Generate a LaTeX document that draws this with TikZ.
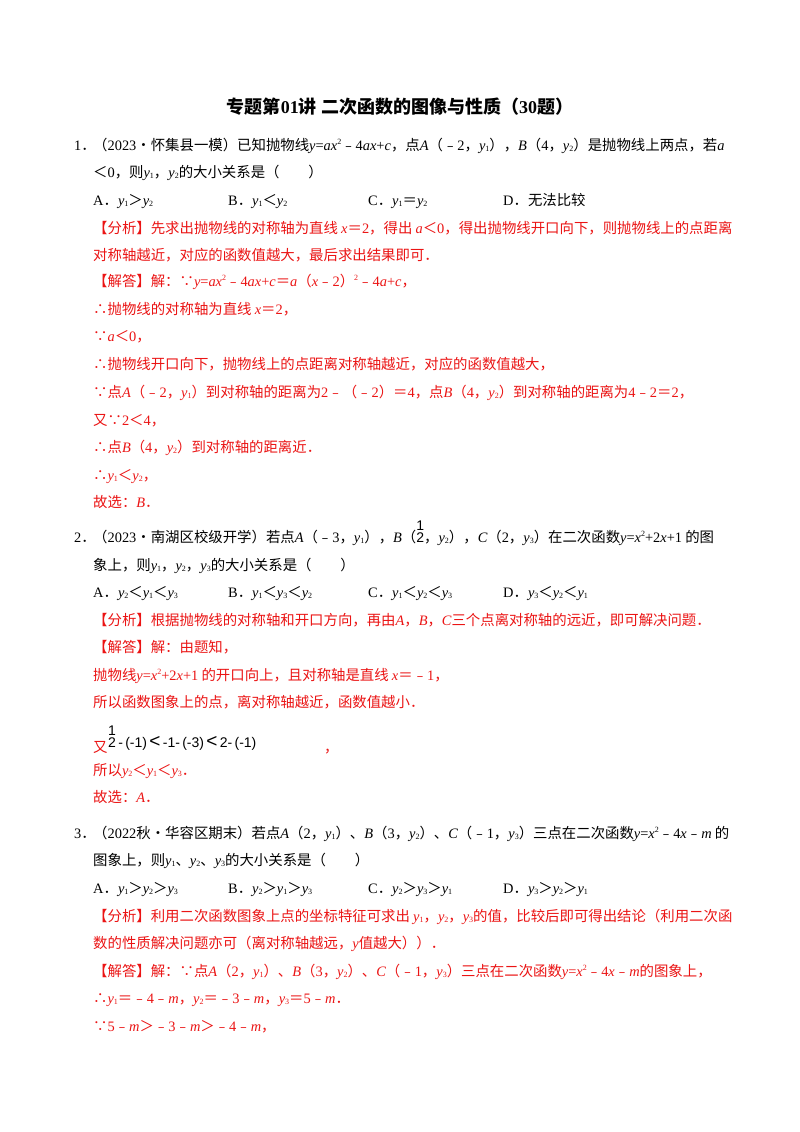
\documentclass[tikz,border=0pt]{standalone}
\usepackage{fontspec}
\setmainfont{Noto Sans CJK SC}
\newfontfamily\tm{Liberation Serif}
\newfontfamily\sansf{Liberation Sans}
\newcommand{\vi}[1]{{\tm\itshape #1}}
\newcommand{\nm}[1]{{\tm #1}}
\newcommand{\sub}[1]{{\tm\raisebox{-0.3ex}{\footnotesize #1}}}
\newcommand{\sus}[1]{{\tm\raisebox{0.8ex}{\footnotesize #1}}}
\newcommand{\hfr}{{\sansf\fontsize{14}{14}\selectfont\begin{tabular}[b]{@{}c@{}}1\\[-2pt]2\end{tabular}}}
\definecolor{rd}{RGB}{235,20,20}
\begin{document}
\begin{tikzpicture}[x=1pt,y=-1pt,
 ln/.style={anchor=base west,inner sep=0pt,font=\fontsize{14.4}{16}\selectfont},
 r/.style={ln,text=rd}]
\useasboundingbox (0,0) rectangle (800,1132);
\fill[white] (0,0) rectangle (800,1132);
\node[anchor=base,inner sep=0pt,font=\fontsize{18}{20}\selectfont\bfseries] (title) at (400,113) {专题第\nm{\textbf{01}}讲\ 二次函数的图像与性质（\nm{\textbf{30}}题）};
% Q1
\node[ln] (q1n) at (74,150) {\nm{1}．};
\node[ln] (q1) at (93,150) {（\nm{2023}•怀集县一模）已知抛物线\vi{y}\nm{=}\vi{ax}\sus{2}﹣\nm{4}\vi{ax}\nm{+}\vi{c}，点\vi{A}（﹣\nm{2}，\vi{y}\sub{1}），\vi{B}（\nm{4}，\vi{y}\sub{2}）是抛物线上两点，若\vi{a}};
\node[ln] (q1b) at (93,177) {＜\nm{0}，则\vi{y}\sub{1}，\vi{y}\sub{2}的大小关系是（\qquad）};
\node[ln] (o1a) at (93,205) {\nm{A}．\vi{y}\sub{1}＞\vi{y}\sub{2}};
\node[ln] (o1b) at (228,205) {\nm{B}．\vi{y}\sub{1}＜\vi{y}\sub{2}};
\node[ln] (o1c) at (368,205) {\nm{C}．\vi{y}\sub{1}＝\vi{y}\sub{2}};
\node[ln] (o1d) at (503,205) {\nm{D}．无法比较};
\node[r] (a1) at (93,233) {【分析】先求出抛物线的对称轴为直线 \vi{x}＝\nm{2}，得出 \vi{a}＜\nm{0}，得出抛物线开口向下，则抛物线上的点距离};
\node[r] (a1b) at (93,260) {对称轴越近，对应的函数值越大，最后求出结果即可．};
\node[r] (s1) at (93,286) {【解答】解：∵\vi{y}\nm{=}\vi{ax}\sus{2}﹣\nm{4}\vi{ax}\nm{+}\vi{c}＝\vi{a}（\vi{x}﹣\nm{2}）\sus{2}﹣\nm{4}\vi{a}\nm{+}\vi{c}，};
\node[r] (s1b) at (93,314) {∴抛物线的对称轴为直线 \vi{x}＝\nm{2}，};
\node[r] (s1c) at (93,341) {∵\vi{a}＜\nm{0}，};
\node[r] (s1d) at (93,369) {∴抛物线开口向下，抛物线上的点距离对称轴越近，对应的函数值越大，};
\node[r] (s1e) at (93,397) {∵点\vi{A}（﹣\nm{2}，\vi{y}\sub{1}）到对称轴的距离为\nm{2}﹣（﹣\nm{2}）＝\nm{4}，点\vi{B}（\nm{4}，\vi{y}\sub{2}）到对称轴的距离为\nm{4}﹣\nm{2}＝\nm{2}，};
\node[r] (s1f) at (93,425) {又∵\nm{2}＜\nm{4}，};
\node[r] (s1g) at (93,452) {∴点\vi{B}（\nm{4}，\vi{y}\sub{2}）到对称轴的距离近．};
\node[r] (s1h) at (93,480) {∴\vi{y}\sub{1}＜\vi{y}\sub{2}，};
\node[r] (s1i) at (93,507) {故选：\vi{B}．};
% Q2
\node[ln] (q2n) at (74,542) {\nm{2}．};
\node[ln] (q2) at (93,542) {（\nm{2023}•南湖区校级开学）若点\vi{A}（﹣\nm{3}，\vi{y}\sub{1}），\vi{B}（\hfr，\vi{y}\sub{2}），\vi{C}（\nm{2}，\vi{y}\sub{3}）在二次函数\vi{y}\nm{=}\vi{x}\sus{2}\nm{+2}\vi{x}\nm{+1} 的图};
\node[ln] (q2b) at (93,570) {象上，则\vi{y}\sub{1}，\vi{y}\sub{2}，\vi{y}\sub{3}的大小关系是（\qquad）};
\node[ln] (o2a) at (93,597) {\nm{A}．\vi{y}\sub{2}＜\vi{y}\sub{1}＜\vi{y}\sub{3}};
\node[ln] (o2b) at (228,597) {\nm{B}．\vi{y}\sub{1}＜\vi{y}\sub{3}＜\vi{y}\sub{2}};
\node[ln] (o2c) at (368,597) {\nm{C}．\vi{y}\sub{1}＜\vi{y}\sub{2}＜\vi{y}\sub{3}};
\node[ln] (o2d) at (503,597) {\nm{D}．\vi{y}\sub{3}＜\vi{y}\sub{2}＜\vi{y}\sub{1}};
\node[r] (a2) at (93,625) {【分析】根据抛物线的对称轴和开口方向，再由\vi{A}，\vi{B}，\vi{C}三个点离对称轴的远近，即可解决问题．};
\node[r] (s2) at (93,652) {【解答】解：由题知，};
\node[r] (s2b) at (93,680) {抛物线\vi{y}\nm{=}\vi{x}\sus{2}\nm{+2}\vi{x}\nm{+1} 的开口向上，且对称轴是直线 \vi{x}＝﹣\nm{1}，};
\node[r] (s2c) at (93,707) {所以函数图象上的点，离对称轴越近，函数值越小．};
\node[r] (s2d) at (93,752) {又};
\node[anchor=base west,inner sep=0pt,font=\sansf\fontsize{14}{14}\selectfont] (ex) at (108,747) {\hfr\,-\,(-1)\,{\fontsize{19}{19}\selectfont<}\,-1-\,(-3)\,{\fontsize{19}{19}\selectfont<}\,2-\,(-1)};
\node[r] (s2e) at (324,752) {，};
\node[r] (s2f) at (93,775) {所以\vi{y}\sub{2}＜\vi{y}\sub{1}＜\vi{y}\sub{3}．};
\node[r] (s2g) at (93,802) {故选：\vi{A}．};
% Q3
\node[ln] (q3n) at (74,838) {\nm{3}．};
\node[ln] (q3) at (93,838) {（\nm{2022}秋•华容区期末）若点\vi{A}（\nm{2}，\vi{y}\sub{1}）、\vi{B}（\nm{3}，\vi{y}\sub{2}）、\vi{C}（﹣\nm{1}，\vi{y}\sub{3}）三点在二次函数\vi{y}\nm{=}\vi{x}\sus{2}﹣\nm{4}\vi{x}﹣\vi{m} 的};
\node[ln] (q3b) at (93,865) {图象上，则\vi{y}\sub{1}、\vi{y}\sub{2}、\vi{y}\sub{3}的大小关系是（\qquad）};
\node[ln] (o3a) at (93,893) {\nm{A}．\vi{y}\sub{1}＞\vi{y}\sub{2}＞\vi{y}\sub{3}};
\node[ln] (o3b) at (228,893) {\nm{B}．\vi{y}\sub{2}＞\vi{y}\sub{1}＞\vi{y}\sub{3}};
\node[ln] (o3c) at (368,893) {\nm{C}．\vi{y}\sub{2}＞\vi{y}\sub{3}＞\vi{y}\sub{1}};
\node[ln] (o3d) at (503,893) {\nm{D}．\vi{y}\sub{3}＞\vi{y}\sub{2}＞\vi{y}\sub{1}};
\node[r] (a3) at (93,921) {【分析】利用二次函数图象上点的坐标特征可求出 \vi{y}\sub{1}，\vi{y}\sub{2}，\vi{y}\sub{3}的值，比较后即可得出结论（利用二次函};
\node[r] (a3b) at (93,948) {数的性质解决问题亦可（离对称轴越远，\vi{y}值越大））．};
\node[r] (s3) at (93,976) {【解答】解：∵点\vi{A}（\nm{2}，\vi{y}\sub{1}）、\vi{B}（\nm{3}，\vi{y}\sub{2}）、\vi{C}（﹣\nm{1}，\vi{y}\sub{3}）三点在二次函数\vi{y}\nm{=}\vi{x}\sus{2}﹣\nm{4}\vi{x}﹣\vi{m}的图象上，};
\node[r] (s3b) at (93,1003) {∴\vi{y}\sub{1}＝﹣\nm{4}﹣\vi{m}，\vi{y}\sub{2}＝﹣\nm{3}﹣\vi{m}，\vi{y}\sub{3}＝\nm{5}﹣\vi{m}．};
\node[r] (s3c) at (93,1031) {∵\nm{5}﹣\vi{m}＞﹣\nm{3}﹣\vi{m}＞﹣\nm{4}﹣\vi{m}，};
\end{tikzpicture}
\end{document}
